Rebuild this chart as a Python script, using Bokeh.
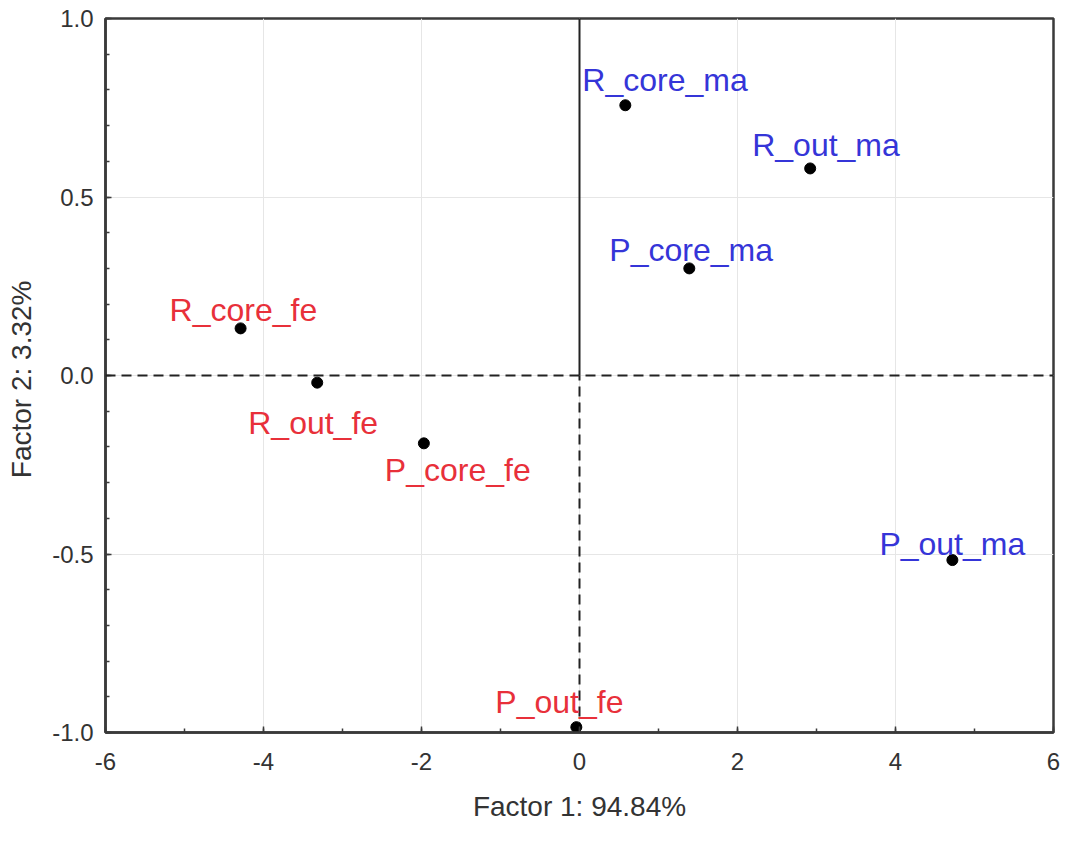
from bokeh.plotting import figure
from bokeh.models import ColumnDataSource, Range1d, FixedTicker, Span, CustomJSTickFormatter
from bokeh.core.properties import value
from bokeh.embed import file_html
from bokeh.resources import INLINE

# ---- data ----
labels = ["R_core_ma", "R_out_ma", "P_core_ma", "P_out_ma",
          "R_core_fe", "R_out_fe", "P_core_fe", "P_out_fe"]
factor1 = [0.58, 2.92, 1.39, 4.72, -4.29, -3.32, -1.97, -0.04]
factor2 = [0.757, 0.58, 0.30, -0.517, 0.132, -0.02, -0.19, -0.985]
group = ["ma", "ma", "ma", "ma", "fe", "fe", "fe", "fe"]
x_ticks = [-6, -4, -2, 0, 2, 4, 6]
y_ticks = [-1.0, -0.5, 0.0, 0.5, 1.0]

# ---- label styling (pixel offsets from each point) ----
label_dx = [-43, -58, -80, -73, -71, -69, -39, -81]
label_dy = [-25, -23, -18, -16, -18, 40, 27, -25]
colors = {"ma": "#3535d8", "fe": "#e8303a"}

src = ColumnDataSource(dict(
    x=factor1, y=factor2, label=labels,
    dx=label_dx, dy=label_dy,
    color=[colors[g] for g in group],
))

FONT = "Liberation Sans"

p = figure(
    width=1062, height=830,
    frame_width=948, frame_height=714,
    min_border_left=105, min_border_right=9,
    min_border_top=18, min_border_bottom=98,
    x_range=Range1d(-6, 6), y_range=Range1d(-1, 1),
    output_backend="svg", toolbar_location=None,
    background_fill_color="white", border_fill_color="white",
)

p.outline_line_color = "#3a3a3a"
p.outline_line_width = 2.5

# grid
p.xgrid.ticker = FixedTicker(ticks=x_ticks)
p.ygrid.ticker = FixedTicker(ticks=y_ticks)
for g in (p.xgrid, p.ygrid):
    g.grid_line_color = "#e6e6e6"
    g.grid_line_width = 1

# axes
p.xaxis.ticker = FixedTicker(ticks=x_ticks, minor_ticks=list(range(-6, 7)))
p.yaxis.ticker = FixedTicker(ticks=y_ticks,
                             minor_ticks=[round(-1 + 0.1 * i, 1) for i in range(21)])
p.xaxis.formatter = CustomJSTickFormatter(code="return tick.toFixed(0);")
p.yaxis.formatter = CustomJSTickFormatter(code="return tick.toFixed(1);")
p.xaxis.axis_label = "Factor 1: 94.84%"
p.yaxis.axis_label = "Factor 2:  3.32%"
for ax in (p.xaxis, p.yaxis):
    ax.axis_line_color = "#3a3a3a"
    ax.axis_line_width = 2.5
    ax.major_tick_in = 6
    ax.major_tick_out = 0
    ax.minor_tick_in = 4
    ax.minor_tick_out = 0
    ax.major_tick_line_color = "#3a3a3a"
    ax.minor_tick_line_color = "#3a3a3a"
    ax.major_tick_line_width = 1.5
    ax.minor_tick_line_width = 1.5
    ax.major_label_text_font = FONT
    ax.major_label_text_font_size = "24px"
    ax.major_label_text_color = "#333333"
    ax.axis_label_text_font = FONT
    ax.axis_label_text_font_size = "28px"
    ax.axis_label_text_font_style = "normal"
    ax.axis_label_text_color = "#333333"
p.xaxis.major_label_standoff = 20
p.xaxis.axis_label_standoff = 18
p.yaxis.major_label_standoff = 12
p.yaxis.axis_label_standoff = 12

# reference lines through the origin
p.add_layout(Span(location=0, dimension="width", line_color="#222222",
                  line_width=2, line_dash="10 6"))
p.segment(x0=[0], y0=[0], x1=[0], y1=[1], line_color="#222222", line_width=2)
p.segment(x0=[0], y0=[-1], x1=[0], y1=[0], line_color="#222222",
          line_width=2, line_dash="10 6")

# points
p.scatter("x", "y", source=src, size=11, color="black")

# labels
p.text("x", "y", text="label", source=src, x_offset="dx", y_offset="dy",
       text_color="color", text_font=value(FONT), text_font_size="32px",
       text_align="left", text_baseline="alphabetic")

open("out.html", "w").write(file_html(p, INLINE))
